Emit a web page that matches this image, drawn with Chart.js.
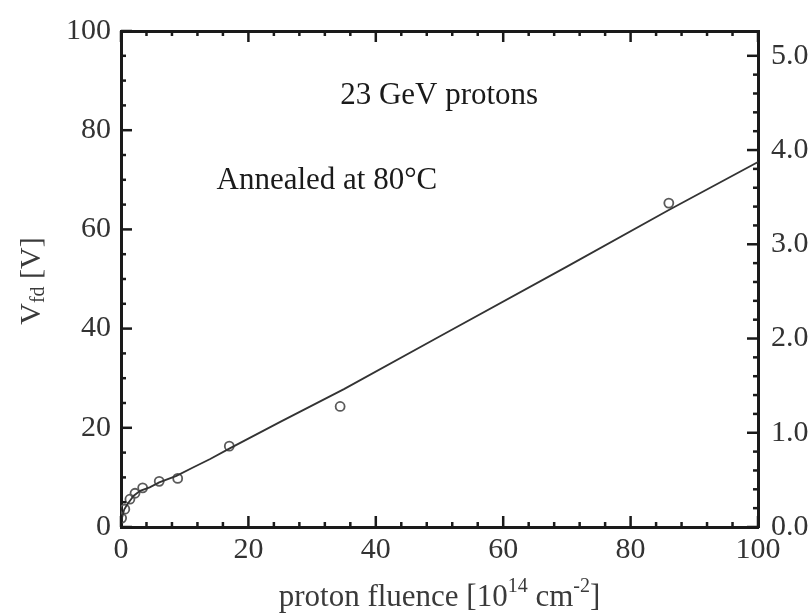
<!DOCTYPE html>
<html><head><meta charset="utf-8">
<script src="https://cdn.jsdelivr.net/npm/chart.js@4.4.0/dist/chart.umd.min.js"></script>
<style>html,body{margin:0;padding:0;background:#fff}</style>
</head><body>
<canvas id="c" width="812" height="615"></canvas>
<script>
// ---- data ----
const fluence = [0.1, 0.6, 1.4, 2.2, 3.4, 6.0, 8.9, 17.0, 34.4, 86.0];
const vfd     = [1.8, 3.6, 5.6, 6.8, 7.9, 9.2, 9.8, 16.3, 24.3, 65.3];
const fitFluence = [0, 0.5, 1, 2, 3, 4.5, 6, 8.7, 11.3, 14, 17, 25, 35, 50, 70, 86, 100];
const fitVfd     = [1.0, 3.5, 4.6, 6.3, 7.3, 8.0, 9.0, 10.3, 12.0, 13.7, 15.8, 21.2, 27.8, 38.4, 52.5, 63.9, 73.6];
const xTicks  = [0, 20, 40, 60, 80, 100];
const yTicks  = [0, 20, 40, 60, 80, 100];
const y2Ticks = [0, 1, 2, 3, 4, 5];
const notes = [
  {text: '23 GeV protons',   x: 34.4, y: 86.9},
  {text: 'Annealed at 80°C', x: 15.0, y: 69.7}
];

const FONT = 'Liberation Serif';
const INK = '#1a1a1a';

const toPts = (xs, ys) => xs.map((v, i) => ({x: v, y: ys[i]}));

const decor = {
  id: 'decor',
  afterDatasetsDraw(chart) {
    const {ctx, chartArea: a, scales: {x, y, y2}} = chart;
    ctx.save();
    ctx.strokeStyle = INK; ctx.lineWidth = 2.5; ctx.lineCap = 'butt';
    const seg = (x1, y1, x2, y2_) => { ctx.beginPath(); ctx.moveTo(x1, y1); ctx.lineTo(x2, y2_); ctx.stroke(); };
    for (let i = 0; i <= 25; i++) {
      const v = i * 4, px = x.getPixelForValue(v), L = (v % 20 === 0) ? 11 : 5;
      seg(px, a.bottom, px, a.bottom - L);
      seg(px, a.top, px, a.top + L);
    }
    for (let i = 0; i <= 20; i++) {
      const v = i * 5, py = y.getPixelForValue(v), L = (v % 20 === 0) ? 11 : 5;
      seg(a.left, py, a.left + L, py);
    }
    for (let i = 0; i <= 25; i++) {
      const v = i * 0.2, py = y2.getPixelForValue(v), L = (i % 5 === 0) ? 11 : 5;
      seg(a.right, py, a.right - L, py);
    }
    // annotations
    ctx.fillStyle = INK;
    ctx.font = '31px "' + FONT + '"';
    ctx.textBaseline = 'middle'; ctx.textAlign = 'left';
    notes.forEach(n => ctx.fillText(n.text, x.getPixelForValue(n.x), y.getPixelForValue(n.y)));
    // axis titles with sub/superscripts
    const rich = (parts, cx, cy, size) => {
      const small = Math.round(size * 0.65);
      let w = 0;
      parts.forEach(p => { ctx.font = (p.s ? small : size) + 'px "' + FONT + '"'; p.w = ctx.measureText(p.t).width; w += p.w; });
      let sx = cx - w / 2;
      parts.forEach(p => {
        ctx.font = (p.s ? small : size) + 'px "' + FONT + '"';
        const dy = p.s === 'sup' ? -size * 0.36 : p.s === 'sub' ? size * 0.22 : 0;
        ctx.fillText(p.t, sx, cy + dy);
        sx += p.w;
      });
    };
    ctx.fillStyle = '#3a3a3a';
    ctx.textAlign = 'left'; ctx.textBaseline = 'middle';
    rich([{t: 'proton fluence [10'}, {t: '14', s: 'sup'}, {t: ' cm'}, {t: '-2', s: 'sup'}, {t: ']'}],
         (a.left + a.right) / 2, 598, 31);
    ctx.save();
    ctx.translate(32, (a.top + a.bottom) / 2 + 2);
    ctx.rotate(-Math.PI / 2);
    rich([{t: 'V'}, {t: 'fd', s: 'sub'}, {t: ' [V]'}], 0, 0, 30);
    ctx.restore();
    ctx.restore();
  }
};

const tickFont = {family: FONT, size: 30};
new Chart(document.getElementById('c'), {
  type: 'scatter',
  data: {
    datasets: [
      {data: toPts(fitFluence, fitVfd), showLine: true, pointRadius: 0, borderColor: '#333', borderWidth: 1.8, tension: 0, xAxisID: 'x', yAxisID: 'y'},
      {data: toPts(fluence, vfd), showLine: false, pointRadius: 4.5, pointBorderWidth: 1.8, borderColor: '#5a5a5a', backgroundColor: 'rgba(255,255,255,0)', xAxisID: 'x', yAxisID: 'y'}
    ]
  },
  options: {
    responsive: false, animation: false, devicePixelRatio: 1,
    layout: {padding: 0},
    plugins: {legend: {display: false}, tooltip: {enabled: false}},
    scales: {
      x: {type: 'linear', position: 'bottom', min: 0, max: 100,
          afterBuildTicks: s => { s.ticks = xTicks.map(v => ({value: v})); },
          afterFit: s => { s.height = 88; },
          grid: {display: false, drawTicks: false}, border: {display: true, color: INK, width: 3},
          ticks: {font: tickFont, color: '#333', padding: 5, maxRotation: 0, autoSkip: false}},
      x2: {type: 'linear', position: 'top', min: 0, max: 100,
          afterFit: s => { s.height = 24; },
          grid: {display: false, drawTicks: false}, border: {display: true, color: INK, width: 3},
          ticks: {display: false}},
      y: {type: 'linear', position: 'left', min: 0, max: 100,
          afterBuildTicks: s => { s.ticks = yTicks.map(v => ({value: v})); },
          afterFit: s => { s.width = 121; },
          grid: {display: false, drawTicks: false}, border: {display: true, color: INK, width: 3},
          ticks: {font: tickFont, color: '#333', padding: 10}},
      y2: {type: 'linear', position: 'right', min: 0, max: 100 / 19,
          afterBuildTicks: s => { s.ticks = y2Ticks.map(v => ({value: v})); },
          afterFit: s => { s.width = 54; },
          grid: {display: false, drawTicks: false}, border: {display: true, color: INK, width: 3},
          ticks: {font: tickFont, color: '#333', padding: 13, callback: v => Number(v).toFixed(1)}}
    }
  },
  plugins: [decor]
});
</script>
</body></html>
